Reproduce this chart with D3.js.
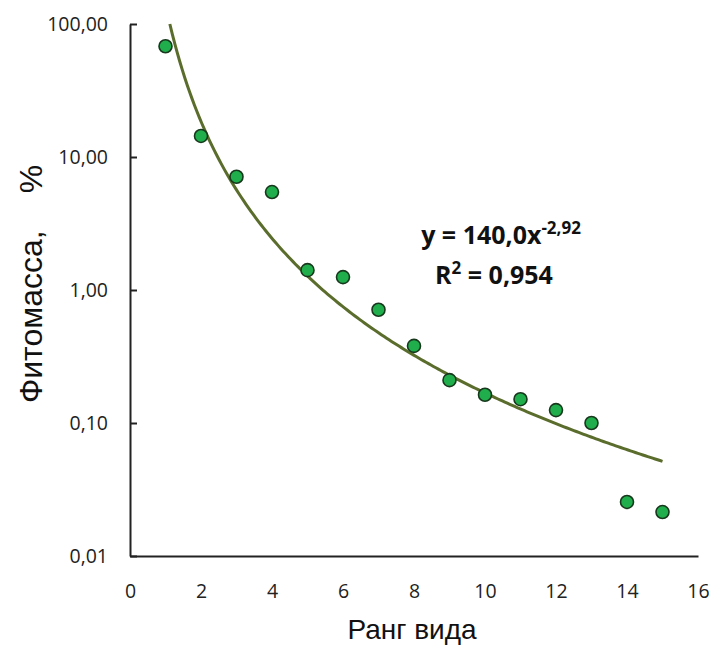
<!DOCTYPE html>
<html>
<head>
<meta charset="utf-8">
<script src="https://cdn.jsdelivr.net/npm/d3@7"></script>
<style>
  body { margin: 0; background: #fff; }
</style>
</head>
<body>
<script>
const width = 712,
    height = 646;

// rank of species and phytomass share, %
const ranks = [1, 2, 3, 4, 5, 6, 7, 8, 9, 10, 11, 12, 13, 14, 15];
const mass = [68, 14.4, 7.1, 5.45, 1.41, 1.25, 0.71, 0.38, 0.21, 0.163, 0.151, 0.125, 0.10, 0.0255, 0.0214];
const yTicks = [0.01, 0.1, 1, 10, 100];
const xTicks = [0, 2, 4, 6, 8, 10, 12, 14, 16];

// power trend y = a * x^b
const fitA = 140.0,
    fitB = -2.92;

const svg = d3.select('body')
    .append('svg')
    .attr('width', width)
    .attr('height', height);

const x = d3.scaleLinear().domain([0, 16]).range([130, 698]);
const y = d3.scaleLog().domain([0.01, 100]).range([556, 24]);

const fmt = d => d.toFixed(2).replace('.', ',');

const yAxis = svg.append('g')
    .attr('transform', 'translate(' + x(0) + ',0)')
    .call(d3.axisLeft(y).tickValues(yTicks).tickFormat(fmt)
        .tickSizeInner(-7).tickSizeOuter(0).tickPadding(22));

const xAxis = svg.append('g')
    .attr('transform', 'translate(0,' + y(0.01) + ')')
    .call(d3.axisBottom(x).tickValues(xTicks).tickFormat(d3.format('d'))
        .tickSize(0).tickPadding(28));

[yAxis, xAxis].forEach(function (g) {
    g.select('.domain').attr('stroke', '#222').attr('stroke-width', 2);
    g.selectAll('.tick line').attr('stroke', '#222').attr('stroke-width', 2);
    g.selectAll('.tick text')
        .attr('fill', '#222')
        .style('font-family', '"Open Sans", sans-serif')
        .style('font-size', '19.5px');
});

// trend line, from where it enters the plot to the last rank
const xStart = Math.pow(100 / fitA, 1 / fitB);
const curve = d3.range(0, 201).map(function (i) {
    const xv = xStart + (15 - xStart) * i / 200;
    return [xv, fitA * Math.pow(xv, fitB)];
});

svg.append('path')
    .datum(curve)
    .attr('fill', 'none')
    .attr('stroke', '#5b6d2c')
    .attr('stroke-width', 3)
    .attr('d', d3.line().x(d => x(d[0])).y(d => y(d[1])));

svg.append('g')
    .selectAll('circle')
    .data(ranks)
    .enter().append('circle')
    .attr('cx', d => x(d))
    .attr('cy', (d, i) => y(mass[i]))
    .attr('r', 6.5)
    .attr('fill', '#1fae4b')
    .attr('stroke', '#17381c')
    .attr('stroke-width', 1.6);

// equation
const eq = svg.append('text')
    .attr('x', 501)
    .attr('y', 244)
    .attr('text-anchor', 'middle')
    .attr('fill', '#111')
    .style('font-family', '"Open Sans", sans-serif')
    .style('font-weight', 'bold')
    .style('font-size', '25px');
eq.append('tspan').text('y = 140,0x');
eq.append('tspan').attr('dy', -10).style('font-size', '17px').text('-2,92');

const r2 = svg.append('text')
    .attr('x', 494)
    .attr('y', 284)
    .attr('text-anchor', 'middle')
    .attr('fill', '#111')
    .style('font-family', '"Open Sans", sans-serif')
    .style('font-weight', 'bold')
    .style('font-size', '25px');
r2.append('tspan').text('R');
r2.append('tspan').attr('dy', -10).style('font-size', '17px').text('2');
r2.append('tspan').attr('dy', 10).text(' = 0,954');

// axis titles
svg.append('text')
    .attr('x', 412)
    .attr('y', 639)
    .attr('text-anchor', 'middle')
    .attr('fill', '#111')
    .style('font-family', '"Liberation Sans", Arial, sans-serif')
    .style('font-size', '28px')
    .text('Ранг вида');

const yt = svg.append('text')
    .attr('transform', 'translate(42,284) rotate(-90)')
    .attr('text-anchor', 'middle')
    .attr('fill', '#111')
    .style('font-family', '"Liberation Sans", Arial, sans-serif')
    .style('font-size', '32px');
yt.append('tspan').text('Фитомасса,');
yt.append('tspan').attr('dx', 37).text('%');
</script>
</body>
</html>
